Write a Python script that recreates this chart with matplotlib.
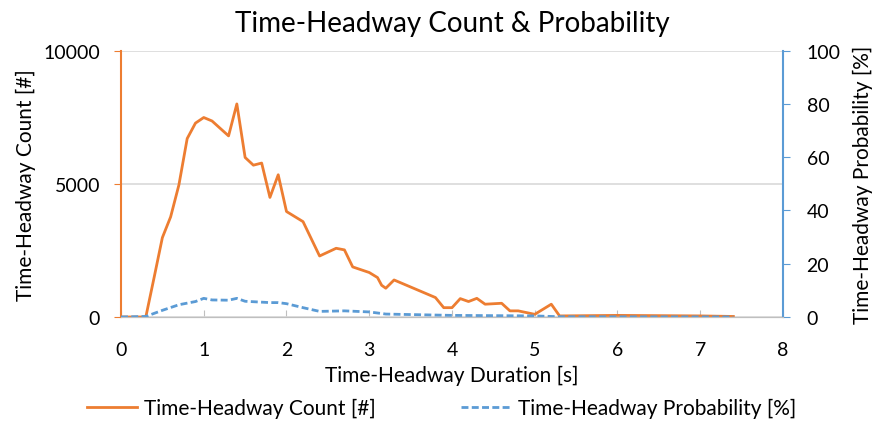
import matplotlib.pyplot as plt

plt.rcParams['font.family'] = ['Lato', 'DejaVu Sans']

# data
count_x = [0, 0.3, 0.4, 0.5, 0.6, 0.7, 0.8, 0.9, 1.0, 1.1, 1.3, 1.4, 1.5, 1.6, 1.7,
           1.8, 1.9, 2.0, 2.2, 2.4, 2.6, 2.7, 2.8, 3.0, 3.1, 3.15, 3.2, 3.3, 3.8,
           3.9, 4.0, 4.1, 4.2, 4.3, 4.4, 4.6, 4.7, 4.8, 5.0, 5.2, 5.3, 6.0, 7.0, 7.4]
count_y = [0, 0, 1480, 2980, 3760, 4960, 6700, 7280, 7490, 7360, 6800, 8000, 5990, 5700, 5780,
           4490, 5340, 3960, 3580, 2290, 2580, 2520, 1880, 1670, 1480, 1190, 1080, 1390, 730,
           350, 350, 690, 580, 700, 480, 515, 230, 230, 100, 480, 40, 60, 40, 20]

prob_x = [0, 0.3, 0.5, 0.7, 0.9, 1.0, 1.1, 1.3, 1.4, 1.5, 1.8, 1.9, 2.0, 2.2, 2.4, 2.7,
          3.0, 3.2, 4.0, 5.0, 5.3, 7.4]
prob_y = [0, 0.2, 2.5, 4.6, 5.8, 7.0, 6.4, 6.3, 7.0, 5.9, 5.4, 5.4, 5.0, 3.5, 2.1, 2.3,
          1.9, 1.1, 0.6, 0.4, 0.1, 0.0]

orange = '#ED7D31'
blue = '#5B9BD5'
grid = '#D9D9D9'

fig = plt.figure(figsize=(8.78, 4.27), dpi=100)
ax = fig.add_axes([0.1378, 0.2553, 0.7540, 0.6237])
ax2 = ax.twinx()

l1, = ax.plot(count_x, count_y, color=orange, lw=2, label='Time-Headway Count [#]')
l2, = ax2.plot(prob_x, prob_y, color=blue, lw=2, ls=(0, (2.5, 1.2)),
               label='Time-Headway Probability [%]')

ax.set_xlim(0, 8)
ax.set_ylim(0, 10000)
ax2.set_ylim(0, 100)
ax.set_xticks(range(0, 9))
ax.set_yticks([0, 5000, 10000])
ax2.set_yticks(range(0, 101, 20))
ax.grid(axis='y', color=grid, lw=1.2)
ax.set_axisbelow(True)

for a in (ax, ax2):
    a.spines['top'].set_visible(False)
    a.spines['bottom'].set_color('#BFBFBF')
    a.spines['left'].set_visible(False)
    a.spines['right'].set_visible(False)
ax.spines['left'].set_visible(True)
ax.spines['left'].set_color(orange)
ax.spines['left'].set_linewidth(1.5)
ax2.spines['right'].set_visible(True)
ax2.spines['right'].set_color(blue)
ax2.spines['right'].set_linewidth(1.5)

ax.tick_params(axis='x', direction='in', color='#BFBFBF', length=5, labelsize=14, pad=17)
ax.tick_params(axis='y', color=orange, length=5, labelsize=14, pad=10)
ax2.tick_params(axis='y', color=blue, length=5, labelsize=14, pad=12)

ax.set_xlabel('Time-Headway Duration [s]', fontsize=15, labelpad=5)
ax.set_ylabel('Time-Headway Count [#]', fontsize=15, labelpad=5)
ax2.set_ylabel('Time-Headway Probability [%]', fontsize=15, labelpad=9)
ax.set_title('Time-Headway Count & Probability', fontsize=20, pad=14)

fig.legend(handles=[l1, l2], loc='lower center', bbox_to_anchor=(0.503, -0.025),
           ncol=2, frameon=False, fontsize=15, columnspacing=4.1,
           handlelength=2.4, handletextpad=0.35)

fig.savefig('out.png', dpi=100)
